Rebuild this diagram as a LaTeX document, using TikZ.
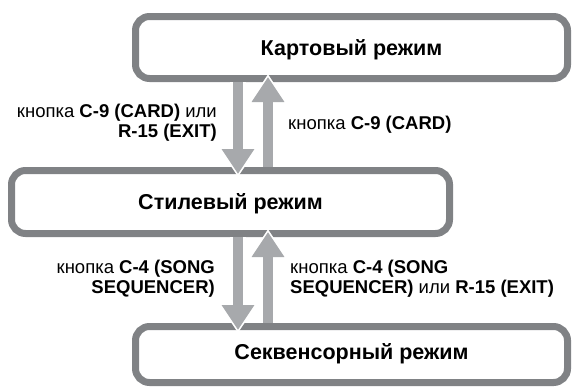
\documentclass[tikz,border=0pt]{standalone}
\usepackage{fontspec}
\setmainfont{Liberation Sans}
\usetikzlibrary{arrows.meta,calc}
\definecolor{boxgray}{RGB}{128,130,133}
\definecolor{arrgray}{RGB}{167,169,172}
\begin{document}
\begin{tikzpicture}[x=1pt,y=-1pt,
  modebox/.style={draw=boxgray, line width=7pt, rounded corners=14pt, inner sep=0pt,
    font=\fontsize{21.5}{24}\selectfont\bfseries, text height=15.4pt, text depth=0pt},
  lbl/.style={inner sep=0pt, font=\fontsize{18.5}{20}\selectfont},
  conn/.style={draw=arrgray, line width=10pt, -{Triangle[width=31pt,length=25pt]}},
  halo/.style={draw=white, line width=16pt, -{Triangle[width=39pt,length=31pt]}},
]
\useasboundingbox (0,0) rectangle (572,388);
\node[modebox, minimum width=432pt, minimum height=62pt] (card) at (351.5,47.5) {Картовый режим};
\node[modebox, minimum width=438pt, minimum height=63pt] (style) at (230.5,202) {Стилевый режим};
\node[modebox, minimum width=432pt, minimum height=56pt, text height=10.4pt] (seq) at (351.5,354.5) {Секвенсорный режим};
\coordinate (xd) at (238,0);
\coordinate (xu) at (268,0);
% halos
\draw[halo] (card.south -| xd) -- ($(style.north -| xd)+(0,10)$);
\draw[halo] (style.north -| xu) -- ($(card.south -| xu)+(0,-8)$);
\draw[halo] (style.south -| xd) -- ($(seq.north -| xd)+(0,10)$);
\draw[halo] (seq.north -| xu) -- ($(style.south -| xu)+(0,-8)$);
% connectors
\draw[conn] (card.south -| xd) -- ($(style.north -| xd)+(0,7)$);
\draw[conn] (style.north -| xu) -- ($(card.south -| xu)+(0,-5)$);
\draw[conn] (style.south -| xd) -- ($(seq.north -| xd)+(0,7)$);
\draw[conn] (seq.north -| xu) -- ($(style.south -| xu)+(0,-5)$);
% labels
\node[lbl, anchor=north east, align=right] (l1) at (217,103) {\strut кнопка \textbf{C-9 (CARD)} или\\\textbf{R-15 (EXIT)}};
\node[lbl, anchor=base west] (r1) at (288,129) {кнопка \textbf{C-9 (CARD)}};
\node[lbl, anchor=north east, align=right] (l2) at (215,259) {\strut кнопка \textbf{C-4 (SONG}\\\textbf{SEQUENCER)}};
\node[lbl, anchor=north west, align=left] (r2) at (290,259) {\strut кнопка \textbf{C-4 (SONG}\\\textbf{SEQUENCER)} или \textbf{R-15 (EXIT)}};
\end{tikzpicture}
\end{document}
